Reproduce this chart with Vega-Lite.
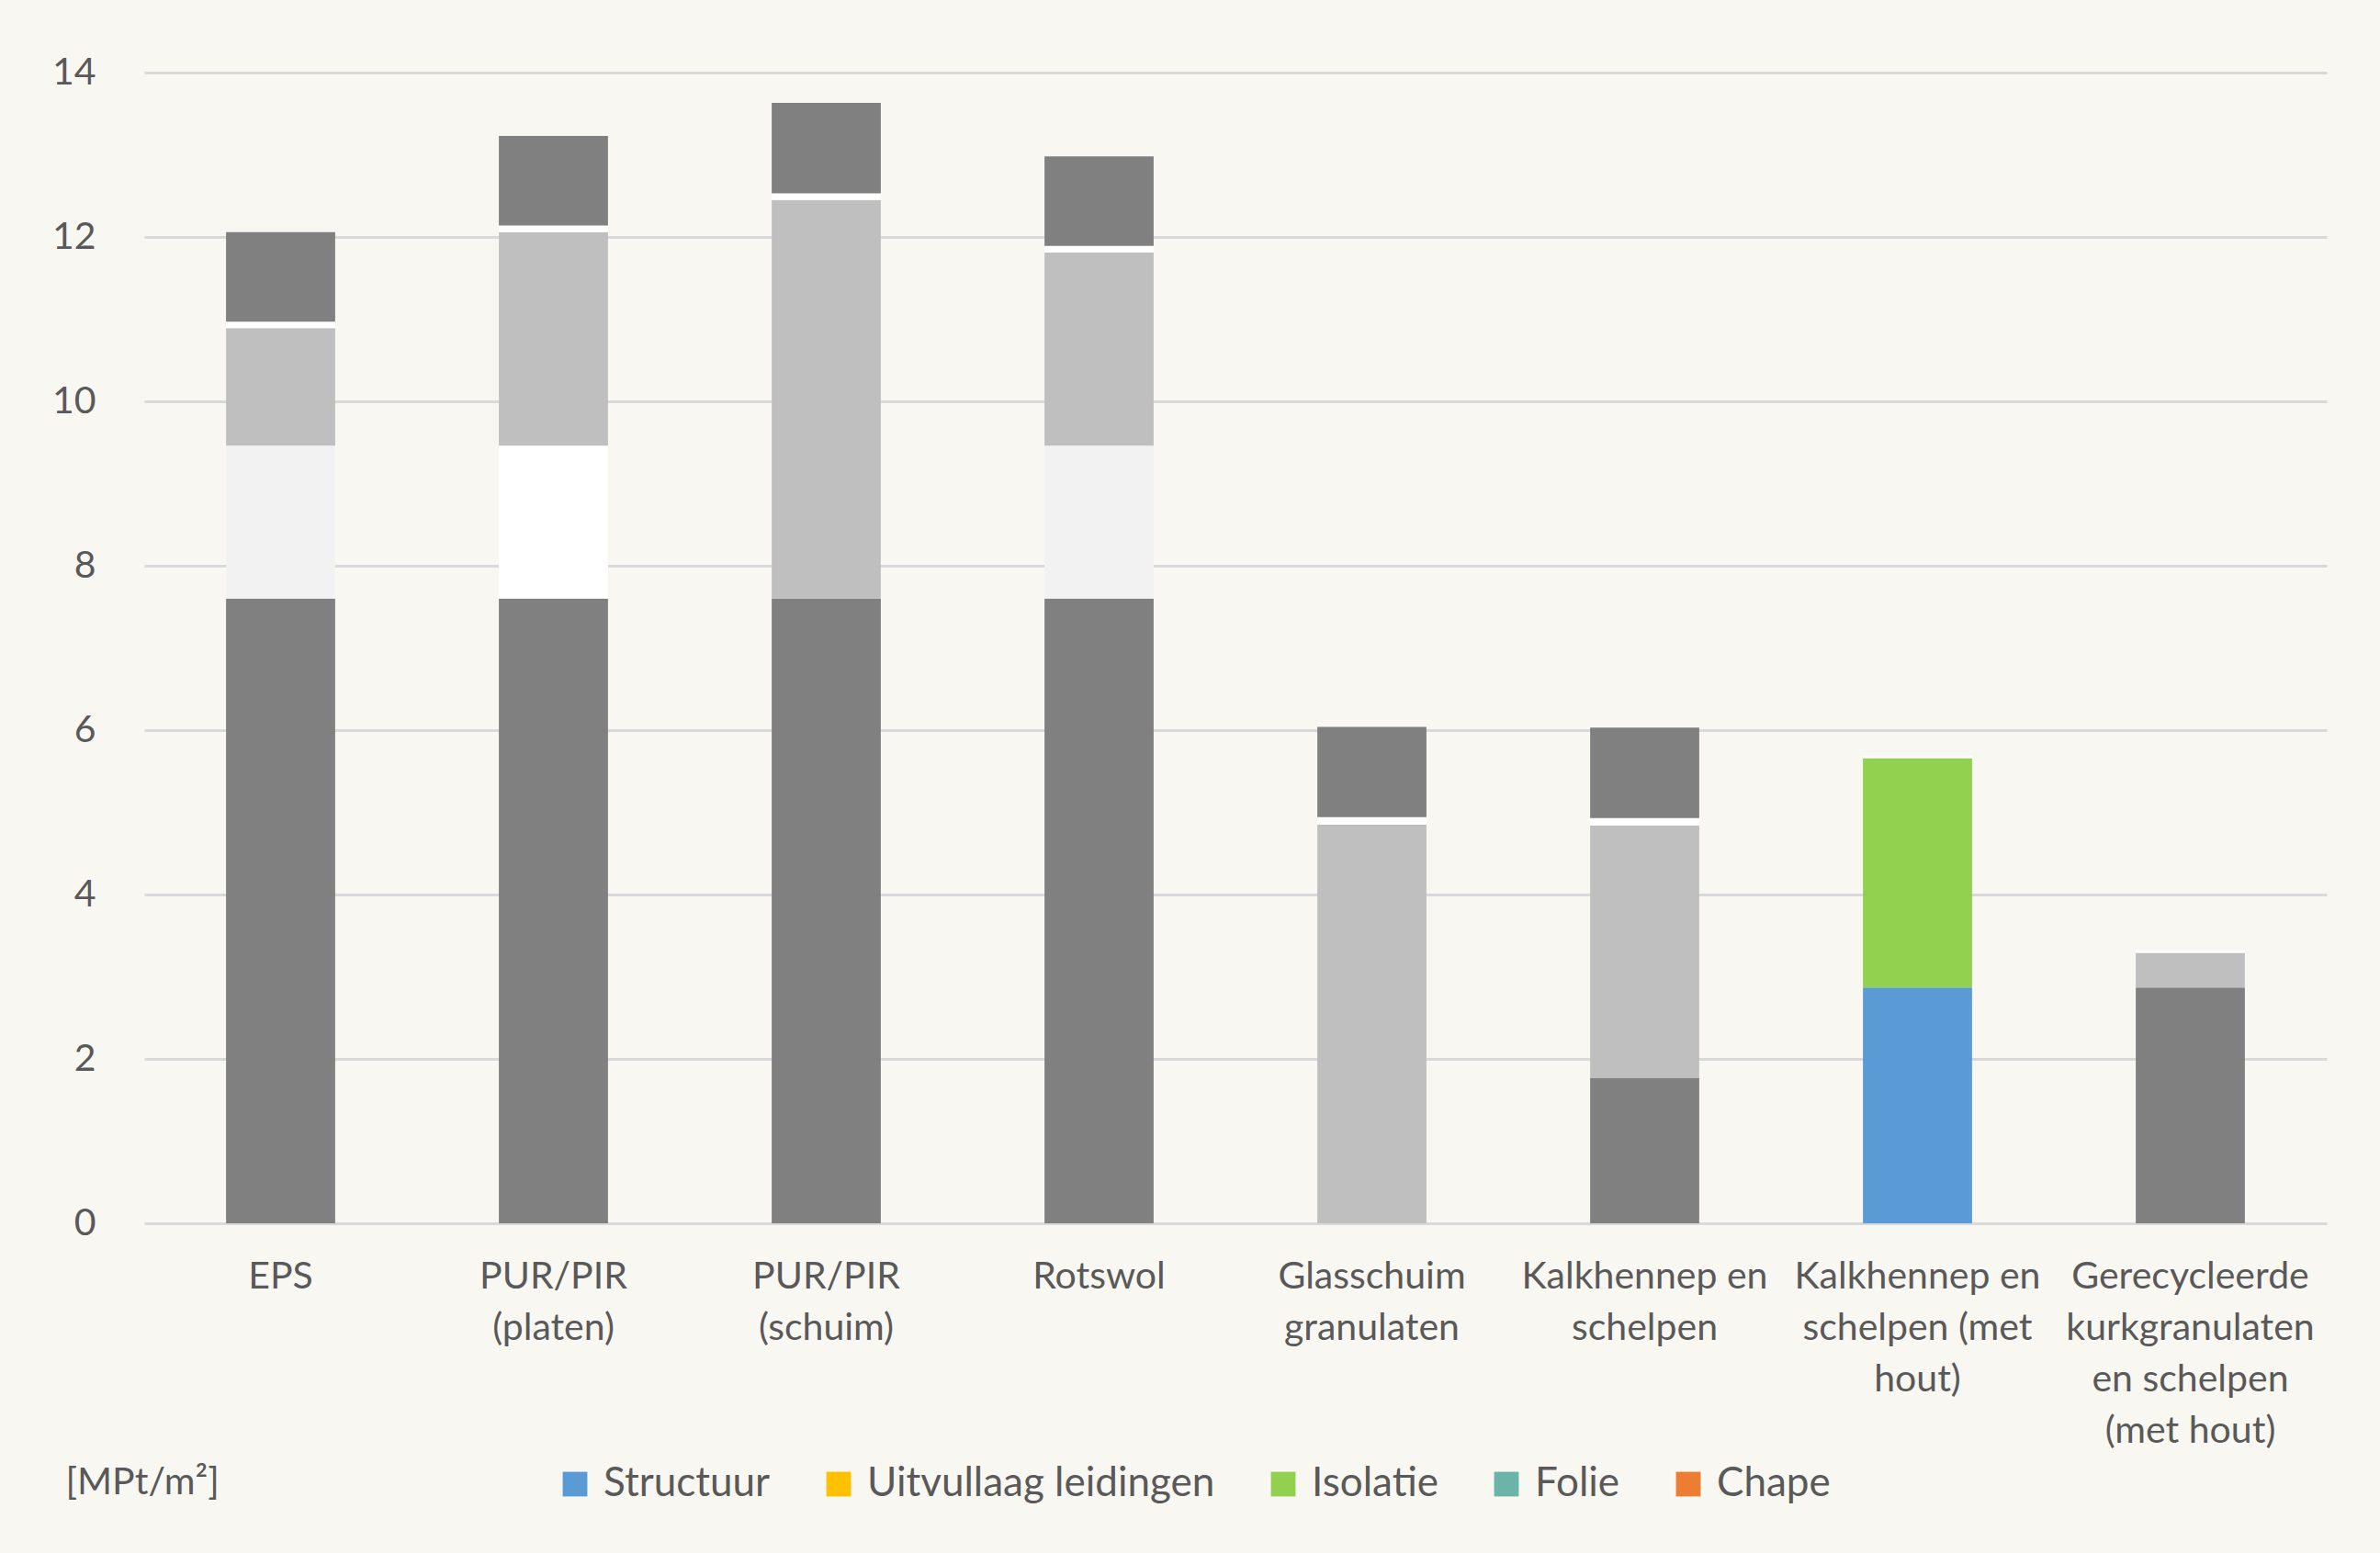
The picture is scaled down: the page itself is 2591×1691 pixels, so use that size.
{
  "$schema": "https://vega.github.io/schema/vega-lite/v6.json",
  "autosize": {"type": "none"},
  "width": 2376,
  "height": 1253,
  "padding": {"left": 157, "top": 79, "right": 58, "bottom": 359},
  "background": "#F9F7F2",
  "config": {
    "font": "Lato",
    "view": {"stroke": null},
    "axis": {"labelColor": "#595959", "labelFontSize": 41, "titleColor": "#595959"},
    "legend": {"labelColor": "#595959", "labelFontSize": 44}
  },
  "data": {
    "values": [
      {"materiaal": "EPS", "laag": "Structuur", "waarde": 7.6},
      {"materiaal": "EPS", "laag": "Uitvullaag leidingen", "waarde": 1.86},
      {"materiaal": "EPS", "laag": "Isolatie", "waarde": 1.43},
      {"materiaal": "EPS", "laag": "Folie", "waarde": 0.08},
      {"materiaal": "EPS", "laag": "Chape", "waarde": 1.09},
      {"materiaal": "PUR/PIR (platen)", "laag": "Structuur", "waarde": 7.6},
      {"materiaal": "PUR/PIR (platen)", "laag": "Uitvullaag leidingen", "waarde": 1.86},
      {"materiaal": "PUR/PIR (platen)", "laag": "Isolatie", "waarde": 2.6},
      {"materiaal": "PUR/PIR (platen)", "laag": "Folie", "waarde": 0.08},
      {"materiaal": "PUR/PIR (platen)", "laag": "Chape", "waarde": 1.09},
      {"materiaal": "PUR/PIR (schuim)", "laag": "Structuur", "waarde": 7.6},
      {"materiaal": "PUR/PIR (schuim)", "laag": "Uitvullaag leidingen", "waarde": 0},
      {"materiaal": "PUR/PIR (schuim)", "laag": "Isolatie", "waarde": 4.85},
      {"materiaal": "PUR/PIR (schuim)", "laag": "Folie", "waarde": 0.08},
      {"materiaal": "PUR/PIR (schuim)", "laag": "Chape", "waarde": 1.1},
      {"materiaal": "Rotswol", "laag": "Structuur", "waarde": 7.6},
      {"materiaal": "Rotswol", "laag": "Uitvullaag leidingen", "waarde": 1.86},
      {"materiaal": "Rotswol", "laag": "Isolatie", "waarde": 2.35},
      {"materiaal": "Rotswol", "laag": "Folie", "waarde": 0.08},
      {"materiaal": "Rotswol", "laag": "Chape", "waarde": 1.09},
      {"materiaal": "Glasschuim granulaten", "laag": "Structuur", "waarde": 0},
      {"materiaal": "Glasschuim granulaten", "laag": "Uitvullaag leidingen", "waarde": 0},
      {"materiaal": "Glasschuim granulaten", "laag": "Isolatie", "waarde": 4.85},
      {"materiaal": "Glasschuim granulaten", "laag": "Folie", "waarde": 0.09},
      {"materiaal": "Glasschuim granulaten", "laag": "Chape", "waarde": 1.1},
      {"materiaal": "Kalkhennep en schelpen", "laag": "Structuur", "waarde": 1.77},
      {"materiaal": "Kalkhennep en schelpen", "laag": "Uitvullaag leidingen", "waarde": 0},
      {"materiaal": "Kalkhennep en schelpen", "laag": "Isolatie", "waarde": 3.07},
      {"materiaal": "Kalkhennep en schelpen", "laag": "Folie", "waarde": 0.09},
      {"materiaal": "Kalkhennep en schelpen", "laag": "Chape", "waarde": 1.1},
      {"materiaal": "Kalkhennep en schelpen (met hout)", "laag": "Structuur", "waarde": 2.87},
      {"materiaal": "Kalkhennep en schelpen (met hout)", "laag": "Uitvullaag leidingen", "waarde": 0},
      {"materiaal": "Kalkhennep en schelpen (met hout)", "laag": "Isolatie", "waarde": 2.79},
      {"materiaal": "Kalkhennep en schelpen (met hout)", "laag": "Folie", "waarde": 0.03},
      {"materiaal": "Kalkhennep en schelpen (met hout)", "laag": "Chape", "waarde": 0},
      {"materiaal": "Gerecycleerde kurkgranulaten en schelpen (met hout)", "laag": "Structuur", "waarde": 2.87},
      {"materiaal": "Gerecycleerde kurkgranulaten en schelpen (met hout)", "laag": "Uitvullaag leidingen", "waarde": 0},
      {"materiaal": "Gerecycleerde kurkgranulaten en schelpen (met hout)", "laag": "Isolatie", "waarde": 0.42},
      {"materiaal": "Gerecycleerde kurkgranulaten en schelpen (met hout)", "laag": "Folie", "waarde": 0.03},
      {"materiaal": "Gerecycleerde kurkgranulaten en schelpen (met hout)", "laag": "Chape", "waarde": 0}
    ]
  },
  "transform": [
    {
      "calculate": "indexof(['Structuur', 'Uitvullaag leidingen', 'Isolatie', 'Folie', 'Chape'], datum.laag)",
      "as": "volgorde"
    }
  ],
  "encoding": {
    "x": {
      "field": "materiaal",
      "type": "nominal",
      "sort": [
        "EPS",
        "PUR/PIR (platen)",
        "PUR/PIR (schuim)",
        "Rotswol",
        "Glasschuim granulaten",
        "Kalkhennep en schelpen",
        "Kalkhennep en schelpen (met hout)",
        "Gerecycleerde kurkgranulaten en schelpen (met hout)"
      ],
      "scale": {"paddingInner": 0.6, "paddingOuter": 0.3},
      "axis": {
        "title": null,
        "labelAngle": 0,
        "labelPadding": 38,
        "labelLineHeight": 56,
        "labelBaseline": "top",
        "labelLimit": 0,
        "ticks": false,
        "domain": false,
        "grid": false,
        "labelExpr": "datum.value == 'PUR/PIR (platen)' ? ['PUR/PIR', '(platen)'] : datum.value == 'PUR/PIR (schuim)' ? ['PUR/PIR', '(schuim)'] : datum.value == 'Glasschuim granulaten' ? ['Glasschuim', 'granulaten'] : datum.value == 'Kalkhennep en schelpen' ? ['Kalkhennep en', 'schelpen'] : datum.value == 'Kalkhennep en schelpen (met hout)' ? ['Kalkhennep en', 'schelpen (met', 'hout)'] : datum.value == 'Gerecycleerde kurkgranulaten en schelpen (met hout)' ? ['Gerecycleerde', 'kurkgranulaten', 'en schelpen', '(met hout)'] : datum.value"
      }
    },
    "y": {
      "field": "waarde",
      "type": "quantitative",
      "aggregate": "sum",
      "stack": "zero",
      "scale": {"domain": [0, 14], "nice": false},
      "axis": {
        "values": [0, 2, 4, 6, 8, 10, 12, 14],
        "title": "[MPt/m²]",
        "titleAngle": 0,
        "titleAlign": "left",
        "titleBaseline": "middle",
        "titleX": -86,
        "titleY": 1535,
        "titleFontSize": 41,
        "titleFontWeight": "normal",
        "ticks": false,
        "domain": false,
        "labelPadding": 53,
        "gridColor": "#D9D9D9",
        "gridWidth": 3
      }
    },
    "order": {"field": "volgorde", "sort": "ascending"}
  },
  "layer": [
    {
      "transform": [{"filter": "datum.materiaal != 'Kalkhennep en schelpen (met hout)'"}],
      "mark": {"type": "bar"},
      "encoding": {
        "color": {
          "field": "laag",
          "type": "nominal",
          "scale": {
            "domain": ["Structuur", "Uitvullaag leidingen", "Isolatie", "Folie", "Chape"],
            "range": ["#808080", "#F2F2F2", "#BFBFBF", "#FFFFFF", "#808080"]
          },
          "legend": null,
          "condition": {
            "test": "datum.materiaal == 'PUR/PIR (platen)' && datum.laag == 'Uitvullaag leidingen'",
            "value": "#FFFFFF"
          }
        }
      }
    },
    {
      "transform": [{"filter": "datum.materiaal == 'Kalkhennep en schelpen (met hout)'"}],
      "mark": {"type": "bar"},
      "encoding": {
        "color": {
          "field": "laag",
          "type": "nominal",
          "scale": {
            "domain": ["Structuur", "Uitvullaag leidingen", "Isolatie", "Folie", "Chape"],
            "range": ["#5B9BD5", "#FFC000", "#92D050", "#6BB5A8", "#ED7D31"]
          },
          "condition": {"test": "datum.laag == 'Folie'", "value": "#FFFFFF"},
          "legend": {
            "title": null,
            "orient": "none",
            "direction": "horizontal",
            "legendX": 447,
            "legendY": 1515,
            "symbolType": "square",
            "symbolSize": 720,
            "symbolOpacity": 1,
            "symbolStrokeWidth": 0,
            "labelOffset": 9,
            "labelLimit": 0,
            "columnPadding": 52
          }
        }
      }
    }
  ],
  "resolve": {"scale": {"color": "independent"}, "legend": {"color": "independent"}}
}
